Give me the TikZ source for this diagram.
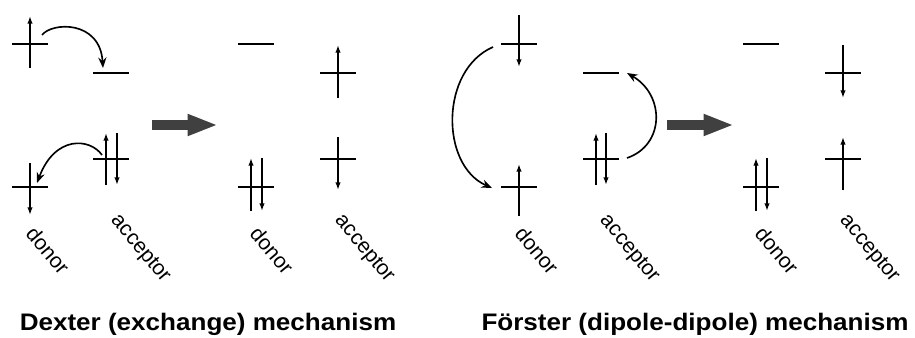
\documentclass[tikz,border=0pt]{standalone}
\usepackage{fontspec}
\setmainfont{Liberation Sans}
\usetikzlibrary{arrows.meta}
\tikzset{
  level/.style={line width=1.8pt},
  spin/.style={line width=1.4pt,-{Latex[length=6.5pt,width=4.6pt]}},
  hop/.style={line width=1.4pt,-{Stealth[length=9pt,width=7pt,inset=3pt]}},
  bigarrow/.style={line width=8.5pt,draw=black!75,-{Triangle[length=26pt,width=17pt]}},
  lbl/.style={rotate=-50,inner sep=0pt,font=\fontsize{18}{20}\selectfont},
  title/.style={anchor=base,inner sep=0pt,xscale=1.09,font=\fontsize{20.4}{24}\selectfont\bfseries}
}
\newcommand\lvl[2]{\draw[level] (#1-18,#2)--(#1+18,#2);}
\begin{document}
\begin{tikzpicture}[x=0.03cm,y=-0.03cm]
  \useasboundingbox (0,0) rectangle (915,338);
  % Dexter: before
  \lvl{30}{44}\lvl{111}{73}\lvl{111}{159}\lvl{30}{187}
  \draw[spin] (30,68)--(30,16);
  \draw[spin] (30,163)--(30,215);
  \draw[spin] (106,185)--(106,133); \draw[spin] (117,133)--(117,185);
  \coordinate (dxA) at (42,35); \coordinate (dxB) at (103,68);
  \coordinate (dxC) at (102,155); \coordinate (dxD) at (37,183);
  \draw[hop] (dxA) .. controls (52,22) and (100,20) .. (dxB);
  \draw[hop] (dxC) .. controls (90,138) and (55,135) .. (dxD);
  % Dexter: after
  \lvl{256}{44}\lvl{338}{73}\lvl{338}{159}\lvl{256}{187}
  \draw[spin] (338,98)--(338,45);
  \draw[spin] (338,137)--(338,190);
  \draw[spin] (251,211)--(251,158); \draw[spin] (262,158)--(262,211);
  \coordinate (dxL) at (152,125); \coordinate (dxR) at (218,125);
  \draw[bigarrow] (dxL)--(dxR);
  % Foerster: before
  \lvl{519}{44}\lvl{601}{73}\lvl{601}{159}\lvl{519}{187}
  \draw[spin] (519,15)--(519,67);
  \draw[spin] (519,216)--(519,164);
  \draw[spin] (596,185)--(596,133); \draw[spin] (606,133)--(606,185);
  \coordinate (fsA) at (493,47); \coordinate (fsB) at (492,188);
  \coordinate (fsC) at (627,158); \coordinate (fsD) at (627,73);
  \draw[hop] (fsA) .. controls (440,70) and (440,165) .. (fsB);
  \draw[hop] (fsC) .. controls (665,145) and (665,95) .. (fsD);
  % Foerster: after
  \lvl{761}{44}\lvl{843}{73}\lvl{843}{159}\lvl{761}{187}
  \draw[spin] (843,45)--(843,98);
  \draw[spin] (843,190)--(843,137);
  \draw[spin] (756,211)--(756,158); \draw[spin] (767,158)--(767,211);
  \coordinate (fsL) at (667,125); \coordinate (fsR) at (734,125);
  \draw[bigarrow] (fsL)--(fsR);
  % labels
  \node[lbl] (dxdon1) at (48,250) {donor};
  \node[lbl] (dxacc1) at (140,249) {acceptor};
  \node[lbl] (dxdon2) at (272,250) {donor};
  \node[lbl] (dxacc2) at (364,249) {acceptor};
  \node[lbl] (fsdon1) at (537,250) {donor};
  \node[lbl] (fsacc1) at (629,249) {acceptor};
  \node[lbl] (fsdon2) at (777,250) {donor};
  \node[lbl] (fsacc2) at (869,249) {acceptor};
  \node[title] (dxtitle) at (208,330) {Dexter (exchange) mechanism};
  \node[title] (fstitle) at (695,330) {Förster (dipole-dipole) mechanism};
\end{tikzpicture}
\end{document}
